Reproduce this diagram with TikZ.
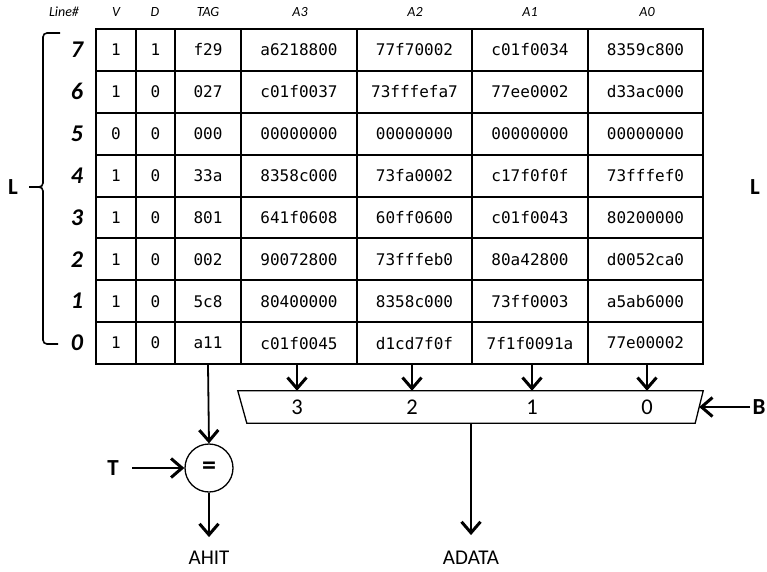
\documentclass[tikz,border=0pt]{standalone}
\usepackage{fontspec}
\setmainfont{Carlito}
\newfontfamily\monof{DejaVu Sans Mono}
\usetikzlibrary{arrows.meta}
\begin{document}
\begin{tikzpicture}[x=1pt,y=-1pt,
  cell/.style={draw, line width=2pt, inner sep=0pt, font=\monof\fontsize{16}{16}\selectfont},
  hdr/.style={font=\itshape\fontsize{14}{14}\selectfont},
  lnum/.style={font=\itshape\bfseries\fontsize{24}{24}\selectfont},
  big/.style={font=\bfseries\fontsize{23}{23}\selectfont},
  lbl/.style={font=\fontsize{22.5}{22.5}\selectfont},
  blbl/.style={font=\fontsize{21}{21}\selectfont, inner sep=1pt},
  arr/.style={line width=1.8pt, -{Straight Barb[length=11pt,width=19pt,line width=3pt]}},
  thin/.style={line width=1.3pt}
  ]
\useasboundingbox (0,0) rectangle (767,571);
% table cells
\foreach \r/\vals in {
  7/{1,1,f29,a6218800,77f70002,c01f0034,8359c800},
  6/{1,0,027,c01f0037,73fffefa7,77ee0002,d33ac000},
  5/{0,0,000,00000000,00000000,00000000,00000000},
  4/{1,0,33a,8358c000,73fa0002,c17f0f0f,73fffef0},
  3/{1,0,801,641f0608,60ff0600,c01f0043,80200000},
  2/{1,0,002,90072800,73fffeb0,80a42800,d0052ca0},
  1/{1,0,5c8,80400000,8358c000,73ff0003,a5ab6000},
  0/{1,0,a11,c01f0045,d1cd7f0f,7f1f0091a,77e00002}}{
  \foreach \t [count=\c from 0] in \vals {
    \pgfmathsetmacro\xl{{96,136,175,241,357,472,588}[\c]}
    \pgfmathsetmacro\xr{{136,175,241,357,472,588,703}[\c]}
    \pgfmathsetmacro\w{\xr-\xl}
    \pgfmathsetmacro\xc{(\xl+\xr)/2}
    \pgfmathsetmacro\yc{29+(7-\r)*41.875+20.9375}
    \node[cell, minimum width=\w pt, minimum height=41.875pt] (c\r-\c) at (\xc,\yc) {\t};
  }
}
% headers
\node[hdr] (hline) at (64,12) {Line\#};
\node[hdr] (hv) at (116,12) {V};
\node[hdr] (hd) at (155,12) {D};
\node[hdr] (htag) at (208,12) {TAG};
\node[hdr] (ha3) at (300,12) {A3};
\node[hdr] (ha2) at (415,12) {A2};
\node[hdr] (ha1) at (530,12) {A1};
\node[hdr] (ha0) at (647,12) {A0};
% line numbers
\foreach \r in {0,...,7}
  \node[lnum] (n\r) at (77,{29+(7-\r)*41.875+20.9375}) {\r};
% brace
\draw[line width=1.6pt, rounded corners=4pt] (60,33) -- (43,33) -- (43,187) -- (29,187);
\draw[line width=1.6pt, rounded corners=4pt] (29,187) -- (43,187) -- (43,344) -- (58,344);
\node[big] (lleft) at (13,187) {L};
\node[big] (lright) at (755,187) {L};
% mux
\node[minimum width=456pt, minimum height=32pt, inner sep=0pt] (mux) at (471,407) {};
\draw[thin] ([xshift=-5pt]mux.north west) -- ([xshift=4pt]mux.north east)
  -- ([xshift=-4pt]mux.south east) -- ([xshift=4pt]mux.south west) -- cycle;
\node[lbl] (m3) at (297,407) {3};
\node[lbl] (m2) at (412,407) {2};
\node[lbl] (m1) at (532,407) {1};
\node[lbl] (m0) at (647,407) {0};
\foreach \m/\c in {m3/3,m2/4,m1/5,m0/6}
  \draw[arr] (\m |- c0-\c.south) -- (\m |- mux.north);
% comparator
\node[draw, circle, thin, minimum size=48pt, inner sep=0pt, font=\bfseries\fontsize{28}{28}\selectfont] (eq) at (209,468) {=};
\draw[arr] (c0-2.south) -- (eq.north);
\node[big] (T) at (113,468) {T};
\draw[arr] ([xshift=10pt]T.east) -- (eq.west);
\node[blbl] (ahit) at (209,558) {AHIT};
\draw[arr] (eq.south) -- ([yshift=13pt]ahit.north);
\node[blbl] (adata) at (471,558) {ADATA};
\draw[arr] (mux.south) -- ([yshift=15pt]adata.north);
\node[big] (B) at (759,407) {B};
\draw[arr] ([xshift=1pt]B.west) -- (mux.east);
\end{tikzpicture}
\end{document}
